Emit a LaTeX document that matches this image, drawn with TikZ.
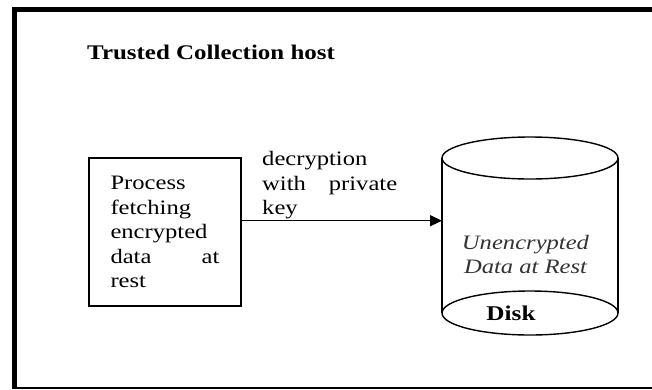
\documentclass[tikz,border=0pt]{standalone}
\usepackage{fontspec}
\setmainfont{Liberation Serif}[FakeStretch=1.2]
\usetikzlibrary{arrows.meta}
\tikzset{
  txt/.style={font=\fontsize{20.5}{24.6}\selectfont, inner sep=0pt},
  procbox/.style={draw, line width=1.4pt, minimum width=152pt, minimum height=148pt,
    text width=109pt, align=left, inner sep=0pt, font=\fontsize{20.5}{24.6}\selectfont},
  disklabel/.style={txt, text=black!80, font=\fontsize{20.5}{23.5}\selectfont\itshape, align=center},
  conn/.style={line width=1.4pt, -{Triangle[length=12pt,width=11pt]}},
  diskline/.style={line width=1.4pt}
}
\begin{document}
\begin{tikzpicture}[x=1pt,y=-1pt]
\useasboundingbox (0,0) rectangle (652,389);
\fill[white] (0,0) rectangle (652,389);
% frame
\draw[line width=4.5pt] (14.3,389) -- (14.3,9.7) -- (670,9.7);
\draw[line width=2pt] (12,388) -- (670,388);
% title
\node[txt, anchor=base west, font=\fontsize{20.8}{24.6}\selectfont\bfseries] (title) at (87,59) {Trusted Collection host};
% process box
\node[procbox] (proc) at (165,232) {Process\\fetching\\encrypted\\data\hfill at\\rest};
% disk cylinder
\draw[diskline] (530,158) ellipse [x radius=88pt, y radius=21pt];
\draw[diskline] (530,313) ellipse [x radius=88pt, y radius=22pt];
\draw[diskline] (442,158) -- (442,313);
\draw[diskline] (618,158) -- (618,313);
\node[inner sep=0pt, minimum width=176pt, minimum height=155pt] (disk) at (530,235.5) {};
\coordinate (diskin) at (442,220.7);
\node[disklabel, anchor=north] (content) at (525.5,235.5) {Unencrypted\\Data at Rest};
\node[txt, anchor=base, font=\fontsize{21}{24}\selectfont\bfseries] (disktitle) at (511,320) {Disk};
% arrow
\draw[conn] (proc.east |- diskin) -- (diskin);
\node[txt, text width=135pt, align=left, anchor=north west] (lbl) at (262,151) {decryption\\with\hfill private\\key};
\end{tikzpicture}
\end{document}
